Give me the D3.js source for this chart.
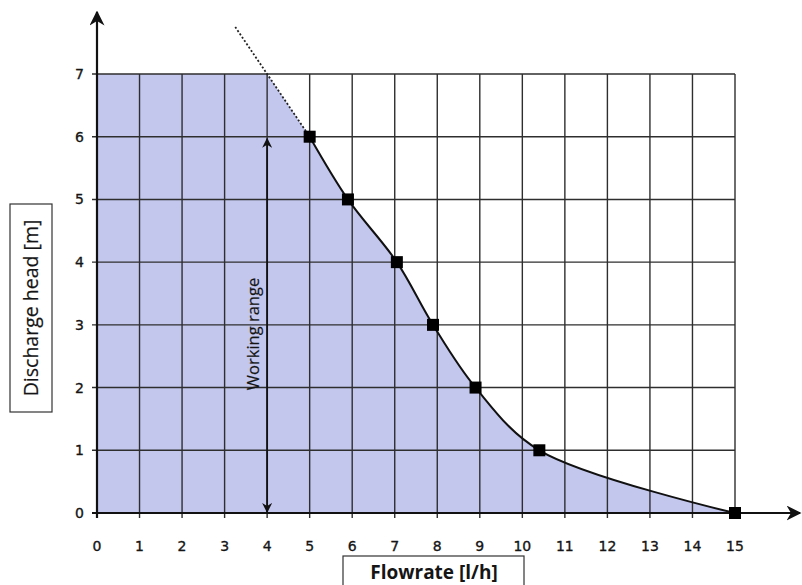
<!DOCTYPE html>
<html>
<head>
<meta charset="utf-8">
<script src="https://cdn.jsdelivr.net/npm/d3@7"></script>
<style>
  body { margin: 0; background: #fff; }
  text { fill: #151515; }
</style>
</head>
<body>
<svg id="chart" width="802" height="585"></svg>
<script>
// curve points
var flow = [5, 5.9, 7.05, 7.9, 8.9, 10.4, 15];
var head = [6, 5, 4, 3, 2, 1, 0];
// dotted extrapolation above the working range
var extFlow = [3.25, 5];
var extHead = [7.75, 6];
var xTicks = [0,1,2,3,4,5,6,7,8,9,10,11,12,13,14,15];
var yTicks = [0,1,2,3,4,5,6,7];
var rangeTop = 6, rangeBottom = 0, rangeX = 4;

var svg = d3.select("#chart");
var x = d3.scaleLinear().domain([0, 15]).range([97, 735]);
var y = d3.scaleLinear().domain([0, 7]).range([513, 74]);

var pts = flow.map(function(f, i) { return [f, head[i]]; });

// fill area: top-left corner, along dotted line to y=7, then the curve
var topCross = extFlow[0] + (extHead[0] - 7) / (extHead[0] - extHead[1]) * (extFlow[1] - extFlow[0]);
var curve = d3.line().x(d => x(d[0])).y(d => y(d[1])).curve(d3.curveCatmullRom.alpha(0.5));
var curvePath = curve(pts);
var fillPath = "M" + x(0) + "," + y(7) + "L" + x(topCross) + "," + y(7) +
  "L" + curvePath.slice(1) + "L" + x(0) + "," + y(0) + "Z";
svg.append("path").attr("d", fillPath).attr("fill", "#c3c7ee");

// grid
svg.append("g").selectAll("line").data(xTicks).join("line")
  .attr("x1", d => x(d)).attr("x2", d => x(d))
  .attr("y1", y(7)).attr("y2", y(0) + 5)
  .attr("stroke", "#2e2e2e").attr("stroke-width", 1.4);
svg.append("g").selectAll("line").data(yTicks).join("line")
  .attr("x1", x(0) - 5).attr("x2", x(15))
  .attr("y1", d => y(d)).attr("y2", d => y(d))
  .attr("stroke", "#2e2e2e").attr("stroke-width", 1.4);

// arrow markers
var defs = svg.append("defs");
defs.append("marker").attr("id", "arr").attr("viewBox", "0 0 10 10")
  .attr("refX", 9).attr("refY", 5).attr("markerWidth", 10).attr("markerHeight", 10)
  .attr("markerUnits", "userSpaceOnUse").attr("orient", "auto-start-reverse")
  .append("path").attr("d", "M0,0 L10,5 L0,10 L3,5 Z").attr("fill", "#111");
defs.append("marker").attr("id", "arrBig").attr("viewBox", "0 0 10 10")
  .attr("refX", 9).attr("refY", 5).attr("markerWidth", 15).attr("markerHeight", 15)
  .attr("markerUnits", "userSpaceOnUse").attr("orient", "auto")
  .append("path").attr("d", "M0,0 L10,5 L0,10 L3,5 Z").attr("fill", "#111");

// axes
svg.append("line").attr("x1", x(0)).attr("x2", x(0)).attr("y1", y(0) + 5).attr("y2", 12)
  .attr("stroke", "#111").attr("stroke-width", 2.2).attr("marker-end", "url(#arrBig)");
svg.append("line").attr("x1", x(0) - 5).attr("x2", 800).attr("y1", y(0)).attr("y2", y(0))
  .attr("stroke", "#111").attr("stroke-width", 2.2).attr("marker-end", "url(#arrBig)");

// tick labels
svg.append("g").selectAll("text").data(xTicks).join("text")
  .attr("x", d => x(d)).attr("y", 551).attr("text-anchor", "middle")
  .attr("font-family", "DejaVu Sans").attr("font-size", 14)
  .attr("stroke", "#151515").attr("stroke-width", 0.35).text(d => d);
svg.append("g").selectAll("text").data(yTicks).join("text")
  .attr("x", 84).attr("y", d => y(d) + 5).attr("text-anchor", "end")
  .attr("font-family", "DejaVu Sans").attr("font-size", 14)
  .attr("stroke", "#151515").attr("stroke-width", 0.35).text(d => d);

// dotted extrapolation
svg.append("line")
  .attr("x1", x(extFlow[0])).attr("y1", y(extHead[0]))
  .attr("x2", x(extFlow[1])).attr("y2", y(extHead[1]))
  .attr("stroke", "#222").attr("stroke-width", 1.8).attr("stroke-dasharray", "2,2");

// curve
svg.append("path").attr("d", curvePath).attr("fill", "none")
  .attr("stroke", "#111").attr("stroke-width", 2);

// square markers
svg.append("g").selectAll("rect").data(pts).join("rect")
  .attr("x", d => x(d[0]) - 6).attr("y", d => y(d[1]) - 6)
  .attr("width", 12).attr("height", 12).attr("fill", "#000");

// working range arrow
svg.append("line").attr("x1", x(rangeX)).attr("x2", x(rangeX))
  .attr("y1", y(rangeBottom) - 1).attr("y2", y(rangeTop) + 2)
  .attr("stroke", "#111").attr("stroke-width", 1.8)
  .attr("marker-start", "url(#arr)").attr("marker-end", "url(#arr)");
svg.append("text").attr("transform", "translate(259,334) rotate(-90)")
  .attr("text-anchor", "middle").attr("font-family", "Open Sans").attr("font-size", 16.5)
  .attr("stroke", "#151515").attr("stroke-width", 0.2)
  .text("Working range");

// axis title boxes
svg.append("rect").attr("x", 343).attr("y", 556).attr("width", 181).attr("height", 40)
  .attr("fill", "#fff").attr("stroke", "#333").attr("stroke-width", 1.2);
svg.append("text").attr("x", 434).attr("y", 579).attr("text-anchor", "middle")
  .attr("font-family", "Open Sans").attr("font-weight", "bold").attr("font-size", 19)
  .text("Flowrate [l/h]");

svg.append("rect").attr("x", 10).attr("y", 204).attr("width", 42).attr("height", 208)
  .attr("fill", "#fff").attr("stroke", "#333").attr("stroke-width", 1.2);
svg.append("text").attr("transform", "translate(38,308) rotate(-90)")
  .attr("text-anchor", "middle").attr("font-family", "Open Sans").attr("font-size", 19.5)
  .attr("stroke", "#151515").attr("stroke-width", 0.2)
  .text("Discharge head [m]");
</script>
</body>
</html>
